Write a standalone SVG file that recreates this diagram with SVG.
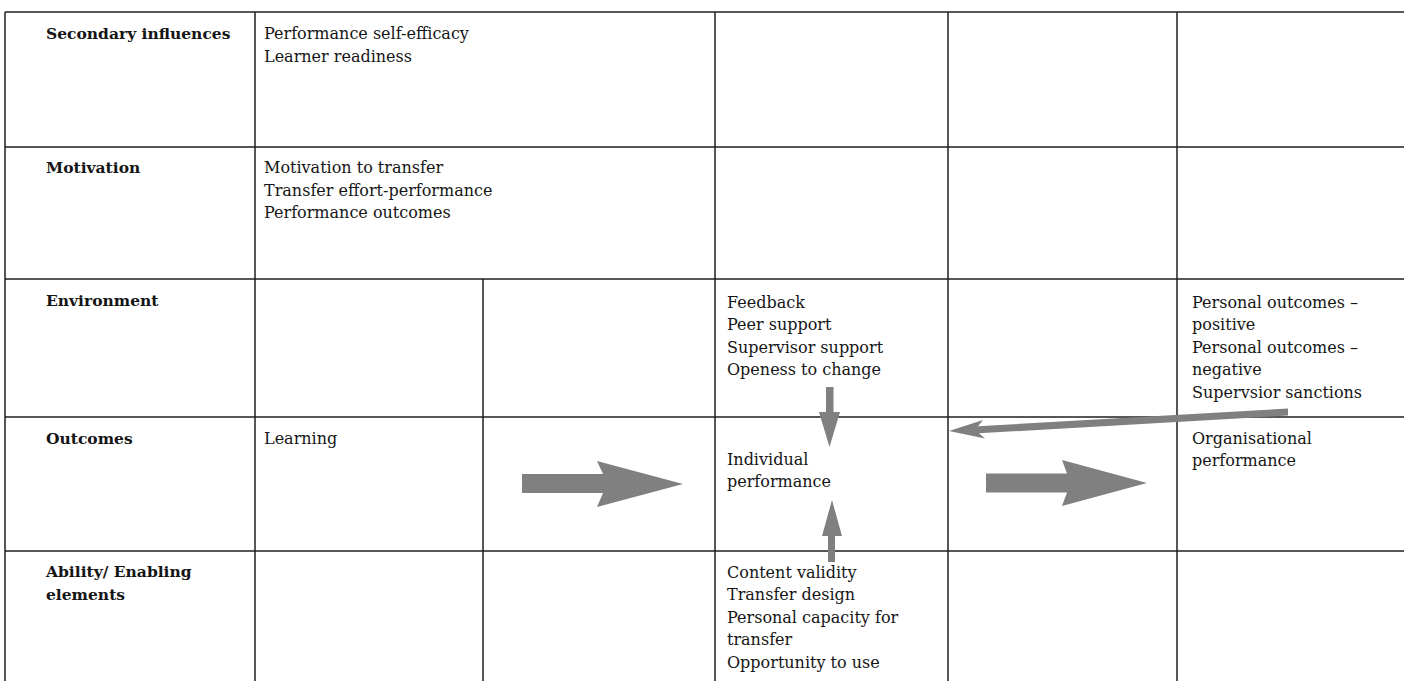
<svg xmlns="http://www.w3.org/2000/svg" width="1404" height="681" viewBox="0 0 1404 681">
<style>
.grid line{stroke:#1e1e1e;stroke-width:1.5}
text{font-family:"DejaVu Serif","Liberation Serif",serif;font-size:16px;fill:#151515}
.h{font-weight:bold;font-size:15.5px}
.arrow{fill:#808080}
</style>
<rect width="1404" height="681" fill="#fff"/>
<g class="grid" id="grid">
<line x1="5" y1="12" x2="1404" y2="12"/>
<line x1="5" y1="147" x2="1404" y2="147"/>
<line x1="5" y1="279" x2="1404" y2="279"/>
<line x1="5" y1="417" x2="1404" y2="417"/>
<line x1="5" y1="551" x2="1404" y2="551"/>
<line x1="5" y1="12" x2="5" y2="681"/>
<line x1="255" y1="12" x2="255" y2="681"/>
<line x1="483" y1="279" x2="483" y2="681"/>
<line x1="715" y1="12" x2="715" y2="681"/>
<line x1="948" y1="12" x2="948" y2="681"/>
<line x1="1177" y1="12" x2="1177" y2="681"/>
</g>
<g id="row-secondary">
<text class="h" x="46" y="39">Secondary influences</text>
<text x="264" y="39">Performance self-efficacy</text>
<text x="264" y="61.5">Learner readiness</text>
</g>
<g id="row-motivation">
<text class="h" x="46" y="173">Motivation</text>
<text x="264" y="173">Motivation to transfer</text>
<text x="264" y="195.5">Transfer effort-performance</text>
<text x="264" y="218">Performance outcomes</text>
</g>
<g id="row-environment">
<text class="h" x="46" y="306">Environment</text>
</g>
<g id="env-individual">
<text x="727" y="307.5">Feedback</text>
<text x="727" y="330">Peer support</text>
<text x="727" y="352.5">Supervisor support</text>
<text x="727" y="375">Openess to change</text>
</g>
<g id="env-organisational">
<text x="1192" y="307.5">Personal outcomes –</text>
<text x="1192" y="330">positive</text>
<text x="1192" y="352.5">Personal outcomes –</text>
<text x="1192" y="375">negative</text>
<text x="1192" y="397.5">Supervsior sanctions</text>
</g>
<g id="row-outcomes">
<text class="h" x="46" y="444">Outcomes</text>
</g>
<g id="learning">
<text x="264" y="444">Learning</text>
</g>
<g id="individual-performance">
<text x="727" y="465">Individual</text>
<text x="727" y="487">performance</text>
</g>
<g id="organisational-performance">
<text x="1192" y="443.5">Organisational</text>
<text x="1192" y="466">performance</text>
</g>
<g id="row-ability">
<text class="h" x="46" y="577">Ability/ Enabling</text>
<text class="h" x="46" y="599.5">elements</text>
</g>
<g id="ability-individual">
<text x="727" y="577.5">Content validity</text>
<text x="727" y="600">Transfer design</text>
<text x="727" y="622.5">Personal capacity for</text>
<text x="727" y="645">transfer</text>
<text x="727" y="667.5">Opportunity to use</text>
</g>
<g id="connectors">
<polygon class="arrow" points="522,474 603,474 597,461 683,484 597,507 603,493 522,493"/>
<polygon class="arrow" points="986,473.5 1067,473.5 1062,460 1147,483 1062,506 1067,492.5 986,492.5"/>
<polygon class="arrow" points="826,387 833.5,387 833.5,412 840,412 829.5,447 819,412 826,412"/>
<polygon class="arrow" points="828,562 835,562 835,536 842,536 832,500 822,536 828,536"/>
<polygon class="arrow" points="1288,408.5 1288,415.5 979,433.3 985,438.5 949,431 983,420 978,426.3"/>
</g>
</svg>
